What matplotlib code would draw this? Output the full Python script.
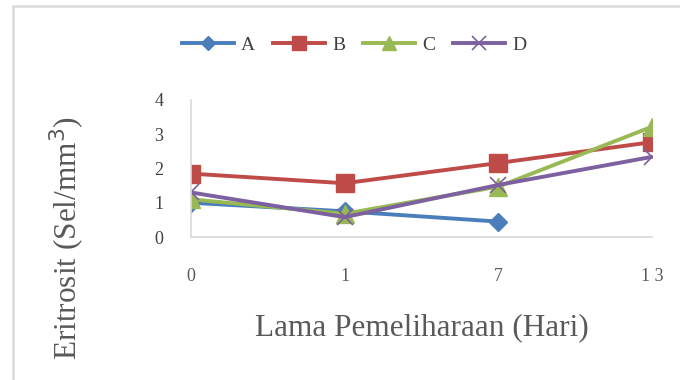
import numpy as np
import matplotlib.pyplot as plt
from matplotlib.patches import Rectangle

plt.rcParams['font.family'] = ['Liberation Serif', 'DejaVu Serif']

days = ['0', '1', '7', '13']
a_vals = [1.0, 0.75, 0.45, np.nan]
b_vals = [1.85, 1.57, 2.16, 2.77]
c_vals = [1.1, 0.68, 1.47, 3.22]
d_vals = [1.3, 0.58, 1.52, 2.34]
y_ticks = [0, 1, 2, 3, 4]

fig = plt.figure(figsize=(6.8, 3.8), dpi=100)
ax = fig.add_axes([191 / 680, 1 - 237 / 380, (652 - 191) / 680, (237 - 100) / 380])

x = np.arange(len(days))
ax.plot(x, a_vals, color='#4a7ebb', lw=2.8, marker='D', ms=9, label='A')
ax.plot(x, b_vals, color='#be4b48', lw=2.8, marker='s', ms=13, label='B')
ax.plot(x, c_vals, color='#98b954', lw=2.8, marker='^', ms=13, label='C')
ax.plot(x, d_vals, color='#7d60a0', lw=2.8, marker='x', ms=12, mew=1.2, label='D')

ax.set_xlim(0, 3)
ax.set_ylim(0, 4)
ax.set_xticks(x)
ax.set_xticklabels(['0', '1', '7', '1 3'])
ax.set_yticks(y_ticks)
ax.tick_params(length=0, colors='#595959', labelsize=13)
ax.tick_params(axis='x', pad=22)
ax.tick_params(axis='y', pad=20)
for s in ['top', 'right']:
    ax.spines[s].set_visible(False)
for s in ['left', 'bottom']:
    ax.spines[s].set_color('#d9d9d9')
    ax.spines[s].set_linewidth(1.2)
for lab in ax.get_yticklabels():
    lab.set_color('#404040')

# axis titles
fig.text(422 / 680, 1 - 328 / 380, 'Lama Pemeliharaan (Hari)', ha='center', va='center',
         fontsize=22.5, color='#595959')
fig.text(67 / 680, 1 - 238 / 380, 'Eritrosit (Sel/mm$^3$)', ha='center', va='center',
         rotation=90, fontsize=22.5, color='#595959')

leg = fig.legend(loc='center', bbox_to_anchor=(354 / 680, 1 - 45 / 380), ncol=4, frameon=False,
                 fontsize=14, handlelength=2.7, columnspacing=0.9, handletextpad=0.35,
                 markerscale=0.8)
for t in leg.get_texts():
    t.set_color('#404040')

# chart border (top and left edges visible)
fig.patches.append(Rectangle((13 / 680, -0.1), 1.2, (1 - 6 / 380) + 0.1, transform=fig.transFigure,
                             fill=False, edgecolor='#d9d9d9', lw=1.8))

fig.savefig('out.png', dpi=100)
